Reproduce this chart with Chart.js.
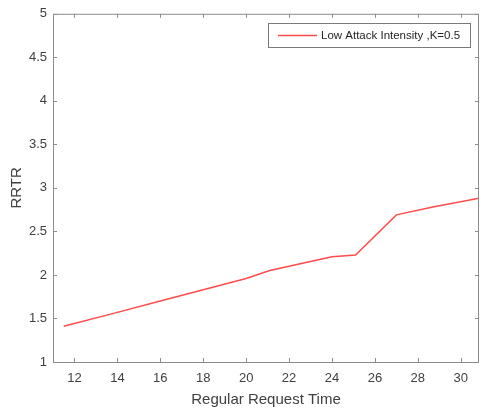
<!DOCTYPE html>
<html>
<head>
<meta charset="utf-8">
<script src="https://cdn.jsdelivr.net/npm/chart.js@4.4.1/dist/chart.umd.min.js"></script>
<style>
  html, body { margin: 0; padding: 0; background: #fff; }
  #wrap { width: 480px; height: 409px; }
</style>
</head>
<body>
<div id="wrap"><canvas id="rrtr"></canvas></div>
<script>
// values
const requestTime = [11.5, 14, 16, 18, 20, 21.1, 24, 25.1, 27, 28.7, 30.85];
const rrtrLow = [1.41, 1.57, 1.70, 1.83, 1.96, 2.05, 2.21, 2.23, 2.69, 2.78, 2.88];
const xTicks = [12, 14, 16, 18, 20, 22, 24, 26, 28, 30];
const yTicks = [1, 1.5, 2, 2.5, 3, 3.5, 4, 4.5, 5];
const seriesLabel = 'Low Attack Intensity ,K=0.5';

const axisGrey = '#8c8c8c';
const textGrey = '#404040';
const fontFamily = '"Liberation Sans", Arial, sans-serif';

// MATLAB-like box with inward ticks, plus a boxed legend in the top right
const boxPlugin = {
    id: 'box',
    afterDraw(chart) {
        const c = chart.ctx, a = chart.chartArea;
        const xs = chart.scales.x, ys = chart.scales.y;
        c.save();
        c.strokeStyle = axisGrey;
        c.lineWidth = 1;
        c.strokeRect(a.left + 0.5, a.top + 0.5, a.right - a.left - 1, a.bottom - a.top);
        c.beginPath();
        xTicks.forEach(v => {
            const px = Math.round(xs.getPixelForValue(v)) + 0.5;
            c.moveTo(px, a.bottom); c.lineTo(px, a.bottom - 4);
            c.moveTo(px, a.top); c.lineTo(px, a.top + 4);
        });
        yTicks.forEach(v => {
            const py = Math.round(ys.getPixelForValue(v)) + 0.5;
            c.moveTo(a.left, py); c.lineTo(a.left + 4, py);
            c.moveTo(a.right, py); c.lineTo(a.right - 4, py);
        });
        c.stroke();

        // legend
        const ds = chart.data.datasets[0];
        const bx = 268, by = 23, bw = 202, bh = 24;
        c.fillStyle = '#fff';
        c.fillRect(bx, by, bw, bh);
        c.strokeStyle = '#7a7a7a';
        c.strokeRect(bx + 0.5, by + 0.5, bw, bh);
        c.strokeStyle = ds.borderColor;
        c.lineWidth = 1.5;
        c.beginPath();
        c.moveTo(bx + 10, by + 12.5); c.lineTo(bx + 49, by + 12.5);
        c.stroke();
        c.fillStyle = '#262626';
        c.font = '11.5px ' + fontFamily;
        c.textBaseline = 'middle';
        c.fillText(ds.label, bx + 53, by + 13);
        c.restore();
    }
};

new Chart(document.getElementById('rrtr'), {
    type: 'line',
    data: {
        datasets: [{
            label: seriesLabel,
            data: requestTime.map((x, i) => ({ x: x, y: rrtrLow[i] })),
            borderColor: '#ff4b4b',
            borderWidth: 1.5,
            pointRadius: 0,
            tension: 0,
            fill: false
        }]
    },
    options: {
        responsive: true,
        maintainAspectRatio: false,
        animation: false,
        layout: { padding: { top: 12, right: 1, left: 0, bottom: 0 } },
        scales: {
            x: {
                type: 'linear',
                min: 11,
                max: 30.85,
                afterBuildTicks: s => { s.ticks = xTicks.map(v => ({ value: v })); },
                afterFit: s => { s.height = 47; },
                grid: { display: false, drawTicks: false },
                border: { display: false },
                ticks: {
                    padding: 9,
                    color: textGrey,
                    font: { family: fontFamily, size: 13 },
                    callback: v => String(v)
                },
                title: {
                    display: true,
                    text: 'Regular Request Time',
                    color: textGrey,
                    padding: { top: 3, bottom: 0 },
                    font: { family: fontFamily, size: 15 }
                }
            },
            y: {
                min: 1,
                max: 5,
                afterBuildTicks: s => { s.ticks = yTicks.map(v => ({ value: v })); },
                afterFit: s => { s.width = 53; },
                grid: { display: false, drawTicks: false },
                border: { display: false },
                ticks: {
                    padding: 6,
                    color: textGrey,
                    font: { family: fontFamily, size: 13 },
                    callback: v => String(v)
                },
                title: {
                    display: true,
                    text: 'RRTR',
                    color: textGrey,
                    padding: { top: 8, bottom: 0 },
                    font: { family: fontFamily, size: 15 }
                }
            }
        },
        plugins: {
            legend: { display: false },
            tooltip: { enabled: false }
        }
    },
    plugins: [boxPlugin]
});
</script>
</body>
</html>
